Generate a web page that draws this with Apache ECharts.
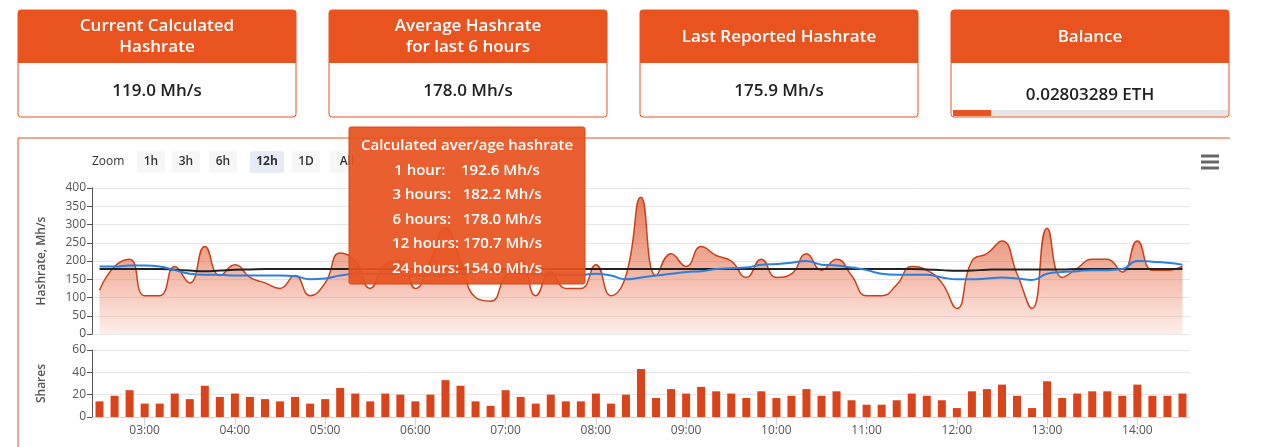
<!DOCTYPE html>
<html><head><meta charset="utf-8">
<script src="https://cdn.jsdelivr.net/npm/echarts@6/dist/echarts.min.js"></script>
<style>html,body{margin:0;padding:0;background:#fff}#c{width:1280px;height:447px}</style>
</head><body><div id="c"></div>
<script>
const startMin = 150, stepMin = 10;
const hashrate = [120,185,205,105,105,185,140,240,160,190,155,140,125,160,105,140,222,200,125,190,200,125,200,290,200,100,90,160,200,105,170,125,125,190,105,160,375,
 160,220,185,240,215,200,155,205,155,165,220,175,205,160,105,105,135,185,175,140,70,200,220,255,165,70,290,155,180,205,205,170,255,175,175,185];
const average = [185,185,188,188,185,175,165,162,162,160,160,160,160,158,150,152,160,165,165,165,162,160,160,160,165,170,172,170,165,163,162,162,162,165,160,150,155,
 160,165,170,172,178,180,182,190,192,195,200,190,188,182,175,165,162,162,162,155,150,150,152,155,152,148,165,170,172,175,175,178,200,198,195,190];
const longAvg = [178,178,178,178,178,176,174,172,174,176,177,178,178,178,178,178,178,178,178,178,178,178,178,178,178,178,178,178,178,178,178,178,178,178,178,178,178,
 178,178,178,178,178,178,178,178,178,178,178,178,178,178,178,178,178,178,177,175,173,174,176,177,177,177,177,177,178,178,178,178,178,178,178,178];
const shares = [14,19,24,12,12,21,16,28,18,21,18,16,14,18,12,16,26,21,14,21,20,14,20,33,28,14,10,24,18,12,20,14,14,21,12,20,43,
 17,25,21,27,23,21,17,23,17,19,25,19,23,15,11,11,15,21,19,15,8,23,25,29,19,8,32,17,21,23,23,19,29,19,19,21];
const hourTicks = [180,240,300,360,420,480,540,600,660,720,780,840];
const cards = [
  {title:['Current Calculated','Hashrate'], value:'119.0 Mh/s'},
  {title:['Average Hashrate','for last 6 hours'], value:'178.0 Mh/s'},
  {title:['Last Reported Hashrate'], value:'175.9 Mh/s'},
  {title:['Balance'], value:'0.02803289 ETH'}
];
const tipLines = ['Calculated aver/age hashrate','1 hour:    192.6 Mh/s','3 hours:   182.2 Mh/s','6 hours:   178.0 Mh/s','12 hours: 170.7 Mh/s','24 hours: 154.0 Mh/s'];
const zoomBtns = ['1h','3h','6h','12h','1D','All'];

const pts = a => a.map((v,i)=>[startMin+i*stepMin, v]);
const OR = '#E8531F', F = '"Open Sans", sans-serif';
const chart = echarts.init(document.getElementById('c'));
const g = [];
const cx = [18,329,640,951];
cards.forEach((c,i)=>{
  const x=cx[i], w=278;
  g.push({type:'rect',shape:{x:x,y:10,width:w,height:107,r:3},style:{fill:'#fff',stroke:OR,lineWidth:1}});
  g.push({type:'rect',shape:{x:x,y:10,width:w,height:53,r:[3,3,0,0]},style:{fill:OR}});
  const t=c.title.length;
  c.title.forEach((s,j)=>g.push({type:'text',x:x+w/2,y:t==2?(26+j*21):37,style:{text:s,fill:'#fff',font:'600 17px '+F,align:'center',verticalAlign:'middle'}}));
  g.push({type:'text',x:x+w/2,y:i==3?95:91,style:{text:c.value,fill:'#222',font:'600 17px '+F,align:'center',verticalAlign:'middle'}});
});
g.push({type:'rect',shape:{x:953,y:110,width:275,height:6},style:{fill:'#e6e6e6'}});
g.push({type:'rect',shape:{x:953,y:110,width:38,height:6},style:{fill:OR}});
g.push({type:'line',shape:{x1:18,y1:138,x2:1230,y2:138},style:{stroke:OR,lineWidth:1}});
g.push({type:'line',shape:{x1:18,y1:138,x2:18,y2:447},style:{stroke:OR,lineWidth:1}});
g.push({type:'text',x:92,y:162,style:{text:'Zoom',fill:'#333',font:'12px '+F,verticalAlign:'middle'}});
const bx=[137,172,209,250,292,330];
zoomBtns.forEach((b,i)=>{
  const w=b.length>2?34:28;
  g.push({type:'rect',shape:{x:bx[i],y:151,width:w,height:22,r:2},style:{fill:i==3?'#e6ebf5':'#f7f7f7'}});
  g.push({type:'text',x:bx[i]+w/2,y:162,style:{text:b,fill:'#333',font:(i==3?'bold ':'600 ')+'12px '+F,align:'center',verticalAlign:'middle'}});
});
[156,162,168].forEach(y=>g.push({type:'rect',shape:{x:1201,y:y-1.5,width:18,height:3},style:{fill:'#666'}}));
g.push({type:'rect',z:100,shape:{x:349,y:127,width:236,height:157,r:2},style:{fill:'rgba(232,83,31,0.93)',stroke:'#d24a1a'}});
tipLines.forEach((s,i)=>g.push({type:'text',z:101,x:467,y:146+i*24.5,style:{text:s,fill:'#fff',font:'600 15px '+F,align:'center',verticalAlign:'middle'}}));

const xa = gi => ({type:'value',gridIndex:gi,min:145,max:875,
  axisLine:{show:gi==1,lineStyle:{color:'#ccd6eb'}},
  axisTick:{show:gi==1,customValues:hourTicks,lineStyle:{color:'#ccd6eb'},length:8},
  splitLine:{show:false},
  axisLabel:{show:gi==1,customValues:hourTicks,color:'#555',fontSize:12,fontFamily:F,margin:8,
    formatter:v=>String(Math.floor(v/60)).padStart(2,'0')+':00'}});
chart.setOption({
  animation:false,
  graphic:g,
  grid:[{left:92,right:90,top:188,height:146},{left:92,right:90,top:350,height:67}],
  xAxis:[xa(0),xa(1)],
  yAxis:[
    {type:'value',gridIndex:0,min:0,max:400,interval:50,name:'Hashrate, Mh/s',nameLocation:'middle',nameGap:44,
     nameTextStyle:{color:'#555',fontSize:12,fontFamily:F,fontWeight:600},axisLabel:{color:'#555',fontSize:12,fontFamily:F,margin:6},
     splitLine:{lineStyle:{color:'#e6e6e6'}}},
    {type:'value',gridIndex:1,min:0,max:60,interval:20,name:'Shares',nameLocation:'middle',nameGap:44,
     nameTextStyle:{color:'#555',fontSize:12,fontFamily:F,fontWeight:600},axisLabel:{color:'#555',fontSize:12,fontFamily:F,margin:6},
     splitLine:{lineStyle:{color:'#e6e6e6'}}}
  ],
  series:[
    {type:'line',data:pts(hashrate),smooth:0.5,symbol:'none',lineStyle:{color:'#C9401A',width:1.5},
     areaStyle:{color:new echarts.graphic.LinearGradient(0,0,0,1,[{offset:0,color:'rgba(220,70,25,1)'},{offset:0.45,color:'rgba(228,110,75,0.85)'},{offset:1,color:'rgba(240,130,100,0.2)'}]),origin:'start'}},
    {type:'line',data:pts(longAvg),smooth:true,symbol:'none',lineStyle:{color:'#222',width:2}},
    {type:'line',data:pts(average),smooth:true,symbol:'none',lineStyle:{color:'#2b7fe0',width:2}},
    {type:'bar',xAxisIndex:1,yAxisIndex:1,data:pts(shares),barWidth:8,itemStyle:{color:'#D9441A'}}
  ]
});
</script></body></html>
